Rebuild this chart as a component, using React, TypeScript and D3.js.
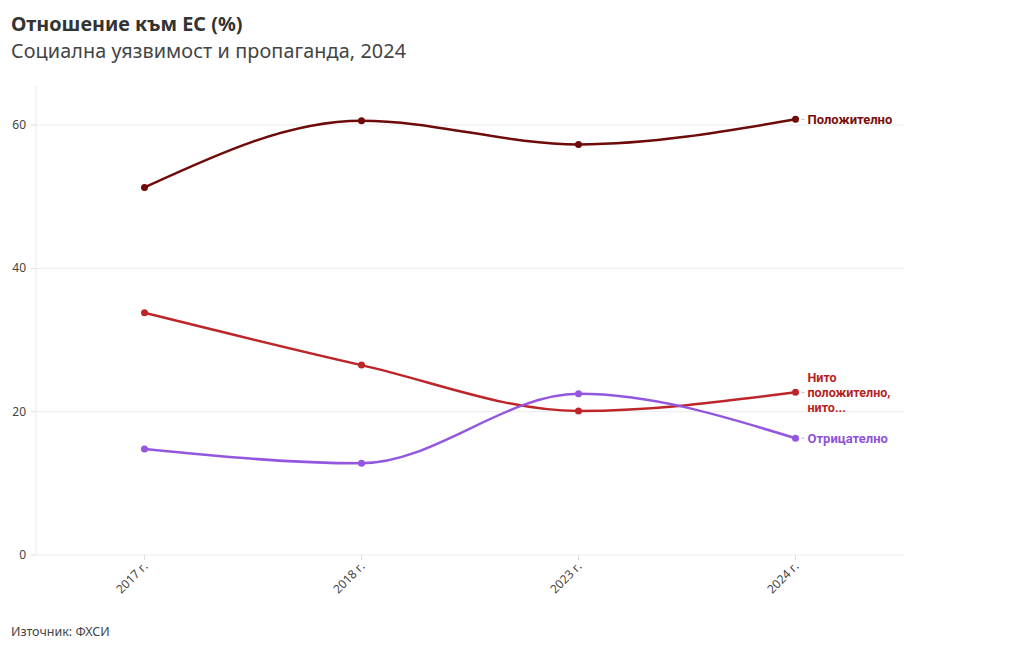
import React from "react";
import * as d3 from "d3";

const categories = ["2017 г.", "2018 г.", "2023 г.", "2024 г."];
const seriesNames = ["Положително", "Нито положително, нито...", "Отрицателно"];
const positive = [51.3, 60.6, 57.3, 60.8];
const neutral = [33.8, 26.5, 20.1, 22.7];
const negative = [14.8, 12.8, 22.5, 16.3];
const yTicks = [0, 20, 40, 60];
const colors = ["#6e0a0a", "#be2529", "#9356df"];
const labelColors = ["#7a0d0d", "#b61f23", "#8e52d9"];
const labelLines = [["Положително"], ["Нито", "положително,", "нито..."], ["Отрицателно"]];

const W = 1020, H = 650;
const left = 36, right = 904, top = 86, bottom = 555;
const FONT = "'Noto Sans', 'Open Sans', sans-serif";
const LABEL_FONT = "Roboto, 'Noto Sans', sans-serif";

export default function App() {
  const x = d3.scalePoint<string>().domain(categories).range([left, right]).padding(0.5);
  const y = d3.scaleLinear().domain([0, 65.45]).range([bottom, top]);
  const all = [positive, neutral, negative];
  const line = d3
    .line<number>()
    .x((_, i) => x(categories[i]) as number)
    .y((d) => y(d))
    .curve(d3.curveMonotoneX);

  return (
    <svg width={W} height={H} style={{ position: "absolute", left: 0, top: 0, background: "#fff" }} fontFamily={FONT}>
      <text x={11} y={31} fontSize={19.8} fontWeight={700} fill="#333">Отношение към ЕС (%)</text>
      <text x={11} y={58} fontSize={19.8} fill="#444" textLength={395} lengthAdjust="spacing">Социална уязвимост и пропаганда, 2024</text>

      {yTicks.map((t) => (
        <g key={t}>
          <line x1={left} x2={right} y1={y(t)} y2={y(t)} stroke="#ebebeb" strokeWidth={1} />
          <line x1={31} x2={left} y1={y(t)} y2={y(t)} stroke="#ddd" />
          <text x={26} y={y(t) + 4} fontSize={12} textAnchor="end" fill="#444">{t}</text>
        </g>
      ))}
      <line x1={left} x2={left} y1={top} y2={bottom} stroke="#ebebeb" />

      {categories.map((c) => (
        <g key={c}>
          <line x1={x(c)} x2={x(c)} y1={bottom} y2={bottom + 5} stroke="#ddd" />
          <text
            transform={`translate(${(x(c) as number) + 4},${bottom + 12}) rotate(-45)`}
            fontSize={12}
            textAnchor="end"
            fill="#444"
          >
            {c}
          </text>
        </g>
      ))}

      {all.map((vals, si) => (
        <g key={seriesNames[si]}>
          <path d={line(vals) || ""} fill="none" stroke={colors[si]} strokeWidth={2.5} />
          {vals.map((v, i) => (
            <circle key={i} cx={x(categories[i])} cy={y(v)} r={3.5} fill={colors[si]} />
          ))}
        </g>
      ))}

      {all.map((vals, si) => {
        const lx = (x(categories[3]) as number) + 12;
        const ly = y(vals[3]);
        const lines = labelLines[si];
        const lh = 14.7;
        const fs = lines.length > 1 ? 12.5 : 13;
        const startY = ly - ((lines.length - 1) * lh) / 2 + 4.6;
        return (
          <g key={"l" + si}>
            <line x1={lx - 6} x2={lx - 3} y1={ly} y2={ly} stroke="#bbb" />
            <text x={lx} y={startY} fontSize={fs} fontWeight={700} fill={labelColors[si]} fontFamily={LABEL_FONT}>
              {lines.map((t, k) => (
                <tspan key={k} x={lx} dy={k === 0 ? 0 : lh}>
                  {t}
                </tspan>
              ))}
            </text>
          </g>
        );
      })}

      <text x={11} y={636} fontSize={12.5} fill="#444">Източник: ФХСИ</text>
    </svg>
  );
}
